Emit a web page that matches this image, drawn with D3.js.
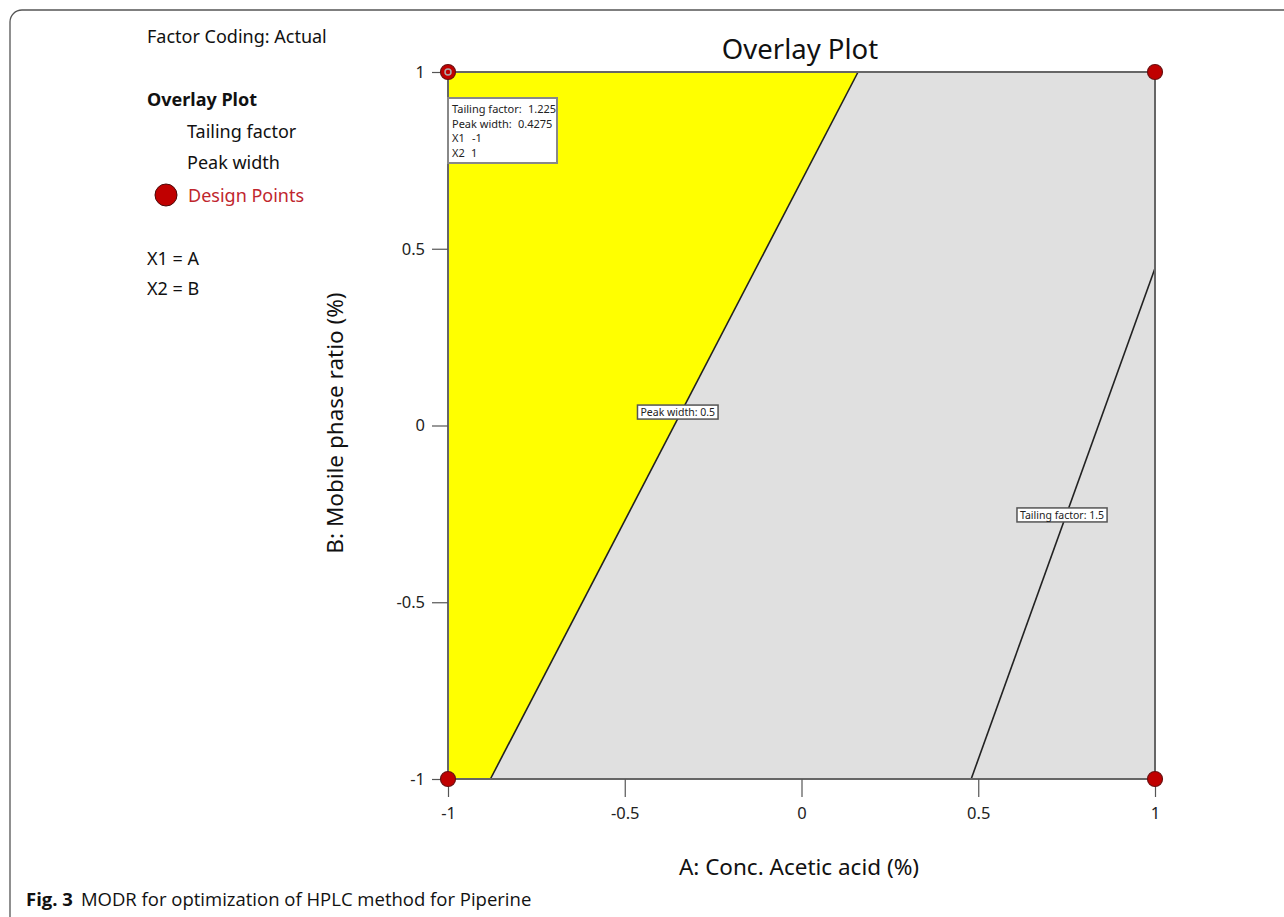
<!DOCTYPE html>
<html><head><meta charset="utf-8">
<script src="https://cdn.jsdelivr.net/npm/d3@7"></script>
<style>body{margin:0;background:#fff}svg{display:block}</style>
</head><body>
<script>
const xTicks = [-1, -0.5, 0, 0.5, 1];
const yTicks = [-1, -0.5, 0, 0.5, 1];
const xTickLabels = ["-1", "-0.5", "0", "0.5", "1"];
const yTickLabels = ["-1", "-0.5", "0", "0.5", "1"];
const designPoints = [[-1, 1], [1, 1], [-1, -1], [1, -1]];
const peakWidthLine = [[-0.88, -1], [0.16, 1]];
const tailingLine = [[0.48, -1], [1, 0.445]];
const contourLabels = [
  {text: "Peak width: 0.5", x: -0.35, y: 0.038},
  {text: "Tailing factor: 1.5", x: 0.737, y: -0.253}
];
const flagNames = ["Tailing factor:", "Peak width:", "X1", "X2"];
const flagValues = ["1.225", "0.4275", "-1", "1"];
const flagPoint = [-1, 1];
const legendItems = ["Tailing factor", "Peak width"];

const W = 1284, H = 917;
const font = "'Noto Sans', 'Open Sans', sans-serif";
const svg = d3.select("body").append("svg").attr("width", W).attr("height", H);

// outer frame
svg.append("rect").attr("x", 10).attr("y", 10).attr("width", 1300).attr("height", 940)
  .attr("rx", 12).attr("fill", "none").attr("stroke", "#555").attr("stroke-width", 1.3);

const x = d3.scaleLinear().domain([-1, 1]).range([448, 1155]);
const y = d3.scaleLinear().domain([-1, 1]).range([779, 72]);

// grey background
svg.append("rect").attr("x", x(-1)).attr("y", y(1)).attr("width", x(1) - x(-1)).attr("height", y(-1) - y(1))
  .attr("fill", "#e0e0e0");

// yellow feasible region
const yellow = [[-1, -1], peakWidthLine[0], peakWidthLine[1], [-1, 1]];
svg.append("path").attr("d", d3.line().x(d => x(d[0])).y(d => y(d[1]))(yellow) + "Z")
  .attr("fill", "#ffff00");

// contour lines
[peakWidthLine, tailingLine].forEach(l => {
  svg.append("path").attr("d", d3.line().x(d => x(d[0])).y(d => y(d[1]))(l))
    .attr("stroke", "#222").attr("stroke-width", 1.6).attr("fill", "none");
});

// border
svg.append("rect").attr("x", x(-1)).attr("y", y(1)).attr("width", x(1) - x(-1)).attr("height", y(-1) - y(1))
  .attr("fill", "none").attr("stroke", "#666").attr("stroke-width", 2);

// axes
const xAxis = d3.axisBottom(x).tickValues(xTicks).tickFormat((d, i) => xTickLabels[i]).tickSize(18).tickPadding(10);
const gx = svg.append("g").attr("transform", `translate(0,${y(-1)})`).call(xAxis);
gx.select(".domain").remove();
gx.selectAll("line").attr("stroke", "#555").attr("stroke-width", 1.2);
gx.selectAll("text").attr("font-family", font).attr("font-size", 16.5).attr("fill", "#222");

const yAxis = d3.axisLeft(y).tickValues(yTicks).tickFormat((d, i) => yTickLabels[i]).tickSize(16).tickPadding(7);
const gy = svg.append("g").attr("transform", `translate(${x(-1)},0)`).call(yAxis);
gy.select(".domain").remove();
gy.selectAll("line").attr("stroke", "#555").attr("stroke-width", 1.2);
gy.selectAll("text").attr("font-family", font).attr("font-size", 16.5).attr("fill", "#222");

// contour labels
contourLabels.forEach(c => {
  const g = svg.append("g");
  const t = g.append("text").attr("x", x(c.x)).attr("y", y(c.y)).attr("text-anchor", "middle")
    .attr("dominant-baseline", "central").attr("font-family", font).attr("font-size", 10.5).attr("fill", "#222").text(c.text);
  const bb = t.node().getBBox();
  g.insert("rect", "text").attr("x", bb.x - 3).attr("y", bb.y).attr("width", bb.width + 6).attr("height", bb.height)
    .attr("fill", "#fff").attr("stroke", "#555").attr("stroke-width", 1.5);
});

// flag box
const fg = svg.append("g");
const fx = x(flagPoint[0]), fy = y(flagPoint[1]);
fg.append("rect").attr("x", fx).attr("y", fy + 26).attr("width", 109).attr("height", 65)
  .attr("fill", "#fff").attr("stroke", "#888").attr("stroke-width", 2);
const valueOffsets = [80, 70, 24, 23];
flagNames.forEach((s, i) => {
  const by = fy + 41 + i * 14.5;
  fg.append("text").attr("x", fx + 4).attr("y", by).attr("font-family", font)
    .attr("font-size", 11).attr("fill", "#222").text(s);
  fg.append("text").attr("x", fx + valueOffsets[i]).attr("y", by).attr("font-family", font)
    .attr("font-size", 11).attr("fill", "#222").text(flagValues[i]);
});

// design points
svg.selectAll("circle.dp").data(designPoints).enter().append("circle")
  .attr("cx", d => x(d[0])).attr("cy", d => y(d[1])).attr("r", 7.5)
  .attr("fill", "#c00000").attr("stroke", "#6a1010").attr("stroke-width", 1.2);
// flag point marker
svg.append("circle").attr("cx", fx).attr("cy", fy).attr("r", 3).attr("fill", "none").attr("stroke", "#aaa").attr("stroke-width", 1.5);

// title
svg.append("text").attr("x", 800).attr("y", 59).attr("text-anchor", "middle").attr("font-family", font)
  .attr("font-size", 27.5).attr("fill", "#111").text("Overlay Plot");

// axis titles
svg.append("text").attr("x", 799).attr("y", 875).attr("text-anchor", "middle").attr("font-family", font)
  .attr("font-size", 22.5).attr("fill", "#111").text("A: Conc. Acetic acid (%)");
svg.append("text").attr("transform", "translate(343,423) rotate(-90)").attr("text-anchor", "middle").attr("font-family", font)
  .attr("font-size", 22.5).attr("fill", "#111").text("B: Mobile phase ratio (%)");

// legend
const lt = (tx, ty, s, opts = {}) => svg.append("text").attr("x", tx).attr("y", ty).attr("font-family", font)
  .attr("font-size", opts.size || 18).attr("font-weight", opts.bold ? "bold" : "normal").attr("fill", opts.fill || "#111").text(s);
lt(147, 43, "Factor Coding: Actual");
lt(147, 106, "Overlay Plot", {bold: true});
legendItems.forEach((s, i) => lt(187, 138 + i * 31, s));
svg.append("circle").attr("cx", 166).attr("cy", 195).attr("r", 11).attr("fill", "#c00000").attr("stroke", "#4a0a0a").attr("stroke-width", 1);
lt(188, 202, "Design Points", {fill: "#c0262d"});
lt(147, 265, "X1 = A");
lt(147, 295, "X2 = B");

// caption
const cap = svg.append("text").attr("x", 26).attr("y", 906).attr("font-family", "'Liberation Sans Narrow', 'Open Sans', sans-serif")
  .attr("font-size", 18.5).attr("fill", "#111");
cap.append("tspan").attr("font-weight", "bold").text("Fig. 3");
cap.append("tspan").attr("dx", 8).text("MODR for optimization of HPLC method for Piperine");
</script>
</body></html>
